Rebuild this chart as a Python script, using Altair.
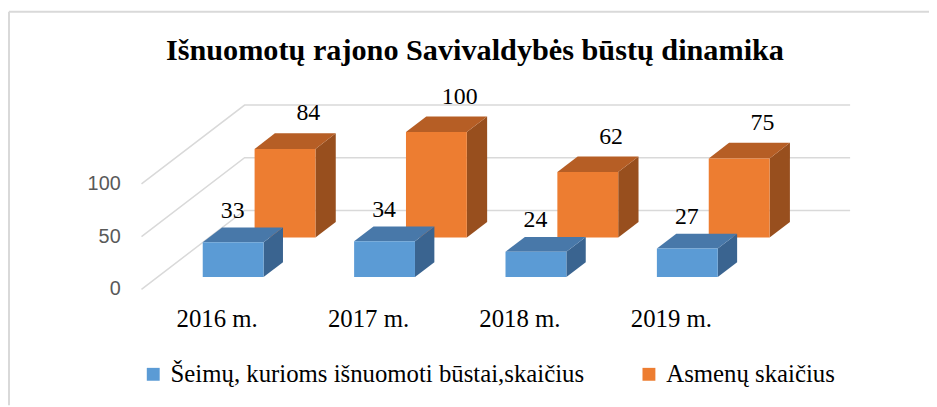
import altair as alt
import pandas as pd

# ---- data ----
years = ["2016 m.", "2017 m.", "2018 m.", "2019 m."]
families = [33, 34, 24, 27]
persons = [84, 100, 62, 75]
series = ["Šeimų, kurioms išnuomoti būstai,skaičius", "Asmenų skaičius"]
grid_values = [0, 50, 100]
title_text = "Išnuomotų rajono Savivaldybės būstų dinamika"

SERIF = "Liberation Serif, Times New Roman, DejaVu Serif, serif"

# ---- 3D projection settings (style) ----
DX = 0.681       # category units per full depth
DY = 74.8        # value units per full depth
HALF_W = 0.201   # half bar width in category units
depths = {series[0]: (0.155, 0.343), series[1]: (0.658, 0.855)}
front_col = {series[0]: "#5b9bd5", series[1]: "#ed7d31"}
top_col = {series[0]: "#4878a9", series[1]: "#b65e25"}
side_col = {series[0]: "#3a6490", series[1]: "#984f1e"}
label_off = {series[0]: (-20, -17), series[1]: (3, -20)}
values = {series[0]: families, series[1]: persons}

W, H = 929, 399
XMIN, XMAX = (8 - 219) / 152.7, (937 - 219) / 152.7
YMIN, YMAX = (290 - 407) / 1.063, (290 - 8) / 1.063
xs = alt.Scale(domain=[XMIN, XMAX], nice=False, zero=False)
ys = alt.Scale(domain=[YMIN, YMAX], nice=False, zero=False)
cs = alt.Scale(domain=series, range=[front_col[s] for s in series])

legend = alt.Legend(
    title=None, orient="none", legendX=134, legendY=355, direction="horizontal",
    symbolType="square", symbolSize=169, symbolStrokeWidth=0,
    labelFont=SERIF, labelFontSize=25, labelColor="black",
    labelLimit=800, columnPadding=52, labelOffset=5, padding=0,
)

layers = []

# frame
frame = pd.DataFrame({"a": [0]})
layers.append(alt.Chart(frame).mark_rule(color="#d9d9d9", strokeWidth=2).encode(
    x=alt.value(1), y=alt.value(2), y2=alt.value(H)))
layers.append(alt.Chart(frame).mark_rule(color="#d9d9d9", strokeWidth=2).encode(
    x=alt.value(1), x2=alt.value(W), y=alt.value(2)))

# gridlines (front-left diagonal + back wall)
grows = []
for g in grid_values:
    grows.append({"g": g, "o": 0, "x": -0.5, "y": g})
    grows.append({"g": g, "o": 1, "x": -0.5 + DX, "y": g + DY})
    grows.append({"g": g, "o": 2, "x": 3.5 + DX, "y": g + DY})
layers.append(alt.Chart(pd.DataFrame(grows)).mark_line(color="#d9d9d9", strokeWidth=1.5).encode(
    x=alt.X("x:Q", scale=xs, axis=None), y=alt.Y("y:Q", scale=ys, axis=None),
    detail="g:N", order="o:Q"))

# y tick labels
layers.append(alt.Chart(pd.DataFrame({"v": grid_values, "x": [-0.5] * 3})).mark_text(
    align="right", baseline="middle", dx=-21, font="Liberation Sans", fontSize=20, color="#595959"
).encode(x=alt.X("x:Q", scale=xs, axis=None), y=alt.Y("v:Q", scale=ys, axis=None), text="v:Q"))

# bars: back series first
for s in [series[1], series[0]]:
    f0, f1 = depths[s]
    fr, tp, sd, lb = [], [], [], []
    for i, (yr, v) in enumerate(zip(years, values[s])):
        fr.append({"series": s, "x": i - HALF_W + f0 * DX, "x2": i + HALF_W + f0 * DX,
                   "y": f0 * DY, "y2": v + f0 * DY})
        for f in (f0, f1):
            tp.append({"bar": i, "y": v + f * DY, "x": i - HALF_W + f * DX, "x2": i + HALF_W + f * DX})
            sd.append({"bar": i, "x": i + HALF_W + f * DX, "y": f * DY, "y2": v + f * DY})
        lb.append({"x": i + f1 * DX, "y": v + f1 * DY, "t": str(v)})
    layers.append(alt.Chart(pd.DataFrame(sd)).mark_area(color=side_col[s], orient="vertical").encode(
        x=alt.X("x:Q", scale=xs, axis=None),
        y=alt.Y("y:Q", scale=ys, axis=None, stack=None), y2="y2:Q", detail="bar:N"))
    layers.append(alt.Chart(pd.DataFrame(tp)).mark_area(color=top_col[s], orient="horizontal").encode(
        y=alt.Y("y:Q", scale=ys, axis=None),
        x=alt.X("x:Q", scale=xs, axis=None, stack=None), x2="x2:Q", detail="bar:N"))
    layers.append(alt.Chart(pd.DataFrame(fr)).mark_rect().encode(
        x=alt.X("x:Q", scale=xs, axis=None), x2="x2:Q",
        y=alt.Y("y:Q", scale=ys, axis=None), y2="y2:Q",
        color=alt.Color("series:N", scale=cs, legend=legend, sort=series)))
    dx, dy = label_off[s]
    layers.append(alt.Chart(pd.DataFrame(lb)).mark_text(
        align="center", baseline="middle", dx=dx, dy=dy, font=SERIF, fontSize=24, color="black"
    ).encode(x=alt.X("x:Q", scale=xs, axis=None), y=alt.Y("y:Q", scale=ys, axis=None), text="t:N"))

# category labels
layers.append(alt.Chart(pd.DataFrame({"x": list(range(len(years))), "y": [0] * len(years), "t": years})).mark_text(
    align="center", baseline="alphabetic", dy=38, font=SERIF, fontSize=25, color="black"
).encode(x=alt.X("x:Q", scale=xs, axis=None), y=alt.Y("y:Q", scale=ys, axis=None), text="t:N"))

# title
layers.append(alt.Chart(pd.DataFrame({"t": [title_text]})).mark_text(
    align="center", baseline="alphabetic", font=SERIF, fontSize=30.5, fontWeight="bold", color="black"
).encode(x=alt.value(471), y=alt.value(51), text="t:N"))

chart = alt.layer(*layers).properties(
    width=W, height=H, autosize=alt.AutoSizeParams(type="none"), padding=0
).configure_view(stroke=None)

chart.save("out.html", embed_options={"renderer": "svg", "actions": False})
